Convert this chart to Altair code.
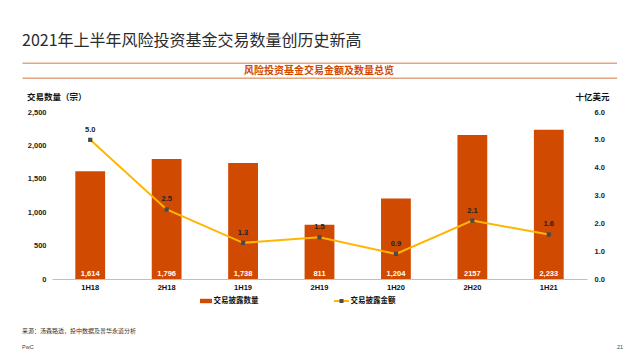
import altair as alt
import pandas as pd

periods = ["1H18", "2H18", "1H19", "2H19", "1H20", "2H20", "1H21"]
deal_counts = [1614, 1796, 1738, 811, 1204, 2157, 2233]
count_labels = ["1,614", "1,796", "1,738", "811", "1,204", "2157", "2,233"]
deal_values = [5.0, 2.5, 1.3, 1.5, 0.9, 2.1, 1.6]
value_labels = ["5.0", "2.5", "1.3", "1.5", "0.9", "2.1", "1.6"]
left_ticks = [0, 500, 1000, 1500, 2000, 2500]
right_ticks = [0, 1, 2, 3, 4, 5, 6]

title_text = "2021年上半年风险投资基金交易数量创历史新高"
subtitle_text = "风险投资基金交易金额及数量总览"
left_axis_title = "交易数量（宗）"
right_axis_title = "十亿美元"
legend_bar = "交易披露数量"
legend_line = "交易披露金额"
source_text = "来源：汤森路透，投中数据及普华永道分析"
brand_text = "PwC"
page_text = "21"

df = pd.DataFrame({
    "period": periods,
    "count": deal_counts,
    "count_label": count_labels,
    "value": deal_values,
    "value_label": value_labels,
    "zero": [0] * len(periods),
})

ORANGE = "#D04A02"
YELLOW = "#FFB600"
MARK = "#4a4a4a"
LATIN = "Liberation Sans"
CJK = "Noto Sans CJK SC"

W, H = 535, 167

x_enc = alt.X("period:N", sort=periods, title=None,
              scale=alt.Scale(paddingInner=0.61, paddingOuter=0.305),
              axis=alt.Axis(labelAngle=0, ticks=False, domainColor="#bfbfbf",
                            domainWidth=1, labelFont=LATIN, labelFontSize=7.5,
                            labelFontWeight="bold", labelColor="#111",
                            labelPadding=4))

left_scale = alt.Scale(domain=[0, 2500], nice=False)
left_axis = alt.Axis(values=left_ticks, format=",.0f", grid=False, ticks=False,
                     domain=False, labelFont=LATIN, labelFontSize=7.5,
                     labelFontWeight="bold", labelColor="#222", labelOverlap=False,
                     labelPadding=6, orient="left")

bars = alt.Chart(df).mark_bar(color=ORANGE).encode(
    x=x_enc, y=alt.Y("count:Q", title=None, scale=left_scale, axis=left_axis))
bar_text = alt.Chart(df).mark_text(color="white", font=LATIN, fontSize=7.5,
                                   fontWeight="bold", baseline="middle", dy=-5).encode(
    x=alt.X("period:N", sort=periods),
    y=alt.Y("zero:Q", title=None, scale=left_scale, axis=left_axis),
    text="count_label:N",
)
bar_group = alt.layer(bars, bar_text)

right_scale = alt.Scale(domain=[0, 6], nice=False)
right_axis = alt.Axis(values=right_ticks, format=".1f", grid=False, ticks=False,
                      domain=False, labelFont=LATIN, labelFontSize=7.5,
                      labelFontWeight="bold", labelColor="#222", labelOverlap=False,
                      labelPadding=7, orient="right")
y_right = alt.Y("value:Q", title=None, scale=right_scale, axis=right_axis)

line = alt.Chart(df).mark_line(color=YELLOW, strokeWidth=2).encode(
    x=alt.X("period:N", sort=periods), y=y_right)
pts = alt.Chart(df).mark_square(color=MARK, size=18, opacity=1).encode(
    x=alt.X("period:N", sort=periods), y=y_right)
pt_text = alt.Chart(df).mark_text(color="#222", font=LATIN, fontSize=7.5,
                                  fontWeight="bold", baseline="middle", dy=-10).encode(
    x=alt.X("period:N", sort=periods), y=y_right, text="value_label:N")
line_group = alt.layer(line, pts, pt_text)

one = pd.DataFrame({"k": [0]})


def label(text, x, y, size, color="#111", weight="bold", align="left", font=CJK):
    return alt.Chart(one).mark_text(text=text, font=font, fontSize=size,
                                    fontWeight=weight, color=color, align=align,
                                    baseline="middle").encode(
        x=alt.value(x), y=alt.value(y))


def hrule(x1, x2, y, color, width):
    return alt.Chart(one).mark_rule(color=color, strokeWidth=width).encode(
        x=alt.value(x1), x2=alt.value(x2), y=alt.value(y))


decor = [
    label(title_text, -30, -71, 16, color="#2b2b2b", weight="normal"),
    hrule(-29.5, 565, -48.7, "#E2A47E", 1.5),
    hrule(-29.5, 565, -33.7, "#E2A47E", 1.5),
    label(subtitle_text, 267, -41, 10, color=ORANGE, align="center"),
    label(left_axis_title, -25, -15.5, 8.5),
    label(right_axis_title, 540.5, -15.5, 8.5, align="center"),
    alt.Chart(one).mark_rect(color=ORANGE).encode(
        x=alt.value(148), x2=alt.value(160), y=alt.value(186.8), y2=alt.value(191.2)),
    label(legend_bar, 161.5, 189, 7.5),
    hrule(282, 297, 189, YELLOW, 2),
    alt.Chart(one).mark_square(color=MARK, size=16, opacity=1).encode(
        x=alt.value(289.5), y=alt.value(189)),
    label(legend_line, 298.5, 189, 7.5),
    label(source_text, -30, 219, 6, color="#333", weight="normal"),
    label(brand_text, -30, 235, 5.5, color="#444", weight="normal", font=LATIN),
    label(page_text, 565, 235, 5.5, color="#444", weight="normal", font=LATIN),
]

chart = alt.layer(bar_group, line_group, *decor).resolve_scale(y="independent").properties(
    width=W, height=H,
    autosize=alt.AutoSizeParams(type="none"),
    padding={"left": 44, "top": 104, "right": 45, "bottom": 73},
    background="white",
).configure_view(stroke=None)

chart.save("out.html", embed_options={"renderer": "svg", "actions": False})
